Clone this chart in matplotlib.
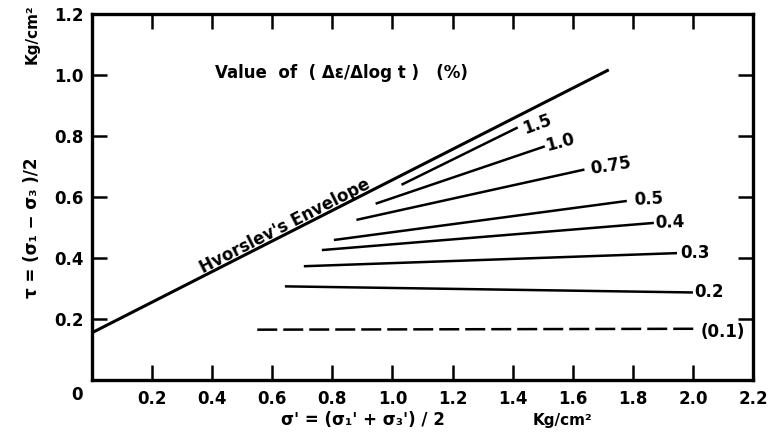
import matplotlib
matplotlib.use('Agg')
import matplotlib.pyplot as plt

# ---- data ----
rate_labels = ['1.5', '1.0', '0.75', '0.5', '0.4', '0.3', '0.2', '(0.1)']
x_start = [1.03, 0.944, 0.88, 0.805, 0.765, 0.705, 0.642, 0.55]
y_start = [0.64, 0.578, 0.525, 0.459, 0.426, 0.373, 0.307, 0.165]
x_end = [1.417, 1.507, 1.639, 1.78, 1.87, 1.947, 2.0, 2.02]
y_end = [0.828, 0.766, 0.69, 0.587, 0.515, 0.416, 0.287, 0.168]
label_rot = [20, 15, 9, 3, 2, 0, 0, 0]
label_dx = [4, 1, 4, 5, 1, 2, 1, 1]
label_dy = [-1, 0, 0, 1, 0, 0, 0, -2]
line_dashed = [False, False, False, False, False, False, False, True]

env_x = [0.0, 1.72]
env_y = [0.155, 1.017]

xticks = [0.2, 0.4, 0.6, 0.8, 1.0, 1.2, 1.4, 1.6, 1.8, 2.0, 2.2]
yticks = [0.2, 0.4, 0.6, 0.8, 1.0, 1.2]

plt.rcParams['font.family'] = ['DejaVu Sans']
plt.rcParams['font.weight'] = 'bold'

W, H = 768, 433
fig = plt.figure(figsize=(W / 100, H / 100), dpi=100)
ax = fig.add_axes([92 / W, 1 - 380 / H, (753 - 92) / W, (380 - 14) / H])
ax.set_xlim(0, 2.2)
ax.set_ylim(0, 1.2)

for s in ax.spines.values():
    s.set_linewidth(2.4)
    s.set_color('black')

ax.set_xticks(xticks)
ax.set_xticklabels([f'{v:.1f}' for v in xticks])
ax.set_yticks(yticks)
ax.set_yticklabels([f'{v:.1f}' for v in yticks])
ax.tick_params(axis='both', direction='in', length=11, width=1.8,
               labelsize=12, top=True, right=True, colors='black')
ax.tick_params(axis='x', pad=7)
ax.tick_params(axis='y', pad=6)
for lab in ax.get_xticklabels() + ax.get_yticklabels():
    lab.set_fontweight('bold')

# Hvorslev's envelope
ax.plot(env_x, env_y, color='black', lw=2.2, solid_capstyle='butt')
ax.text(0.65, 0.49, "Hvorslev's Envelope", rotation=26.7,
        transform_rotates_text=True, rotation_mode='anchor',
        ha='center', va='baseline', fontsize=12, fontweight='bold')

# constant-rate lines
for lab, xs, ys, xe, ye, rot, dx, dy, dashed in zip(
        rate_labels, x_start, y_start, x_end, y_end, label_rot,
        label_dx, label_dy, line_dashed):
    ls = (0, (8, 2.4)) if dashed else '-'
    ax.plot([xs, xe], [ys, ye], color='black', lw=1.8, linestyle=ls,
            solid_capstyle='butt')
    ax.annotate(lab, xy=(xe, ye), xytext=(dx, dy), textcoords='offset points',
                ha='left', va='center', rotation=rot, rotation_mode='anchor',
                fontsize=12, fontweight='bold')

ax.text(0.83, 1.005, 'Value  of  ( Δε/Δlog t )   (%)', ha='center',
        va='center', fontsize=12, fontweight='bold')

# axis labels / origin
fig.text(77 / W, 1 - 395 / H, '0', ha='center', va='center', fontsize=12,
         fontweight='bold')
fig.text(32 / W, 1 - 228 / H, 'τ = (σ₁ − σ₃ )/2', rotation=90, ha='center',
         va='center', fontsize=12, fontweight='bold')
fig.text(32 / W, 1 - 34 / H, 'Kg/cm²', rotation=90, ha='center',
         va='center', fontsize=11, fontweight='bold')
fig.text(363 / W, 1 - 420 / H, "σ' = (σ₁' + σ₃') / 2", ha='center',
         va='center', fontsize=12, fontweight='bold')
fig.text(562 / W, 1 - 420 / H, 'Kg/cm²', ha='center', va='center',
         fontsize=11, fontweight='bold')

fig.savefig('out.png', dpi=100)
